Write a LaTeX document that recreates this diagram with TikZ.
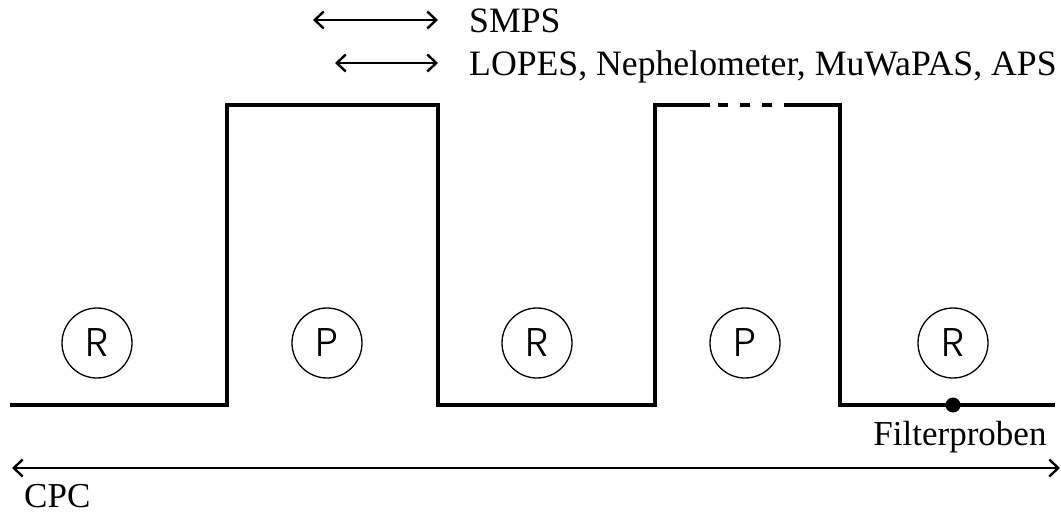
\documentclass[tikz,border=0pt]{standalone}
\usepackage{fontspec}
\setmainfont{Liberation Serif}
\newfontfamily\circfont{Poppins}[UprightFont={* Light}]
\usetikzlibrary{arrows.meta}
\begin{document}
\begin{tikzpicture}[x=1pt,y=-1pt,
  sig/.style={line width=3.2pt, line join=miter},
  stbox/.style={circle,draw,line width=1.3pt,minimum size=70pt,inner sep=0pt,
    font=\circfont\fontsize{40}{40}\selectfont},
  lbl/.style={font=\fontsize{35}{40}\selectfont, inner sep=0pt},
  toplbl/.style={font=\fontsize{35.7}{40}\selectfont, inner sep=0pt, anchor=base west},
  rng/.style={line width=1.6pt,
    {Straight Barb[length=9pt,width=17pt,line width=2.4pt]}-{Straight Barb[length=9pt,width=17pt,line width=2.4pt]}}]
\useasboundingbox (0,0) rectangle (1061,514);
% waveform
\coordinate (w0) at (10,405);
\coordinate (w1) at (227,105);
\coordinate (w2) at (438,405);
\coordinate (w3) at (655,105);
\coordinate (d0) at (710,105);
\coordinate (d1) at (785,105);
\coordinate (w4) at (840,405);
\coordinate (w5) at (1055,405);
\draw[sig] (w0) -| (w1) -| (w2) -| (w3) -- (d0);
\draw[sig, dash pattern=on 10pt off 12pt, dash phase=14pt] (d0) -- (d1);
\draw[sig] (d1) -| (w4) -- (w5);
% states
\node[stbox] (r1) at (97,343) {R};
\node[stbox] (p1) at (327,343) {P};
\node[stbox] (r2) at (537,343) {R};
\node[stbox] (p2) at (745,343) {P};
\node[stbox] (r3) at (953,343) {R};
% filter sample dot
\fill (953,405) circle (7.5pt);
\node[lbl, anchor=base] (filt) at (960,445) {Filterproben};
% top ranges
\coordinate (a1l) at (313,20);
\coordinate (a1r) at (438,20);
\coordinate (a2l) at (335,63);
\coordinate (a2r) at (438,63);
\draw[rng] (a1l) -- (a1r);
\draw[rng] (a2l) -- (a2r);
\node[toplbl] (smps) at (469,32) {SMPS};
\node[toplbl] (lopes) at (469,75) {LOPES, Nephelometer, MuWaPAS, APS};
% CPC range
\coordinate (cl) at (12,468);
\coordinate (cr) at (1060,468);
\draw[rng] (cl) -- (cr);
\node[lbl, anchor=base west] (cpc) at (24,507) {CPC};
\end{tikzpicture}
\end{document}
